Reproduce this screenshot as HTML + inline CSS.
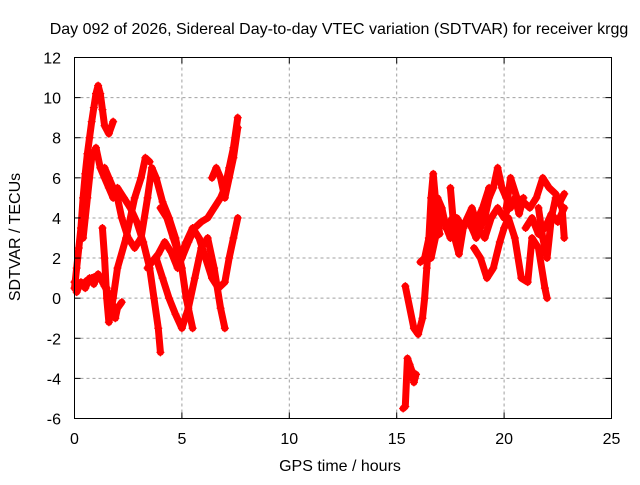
<!DOCTYPE html>
<html><head><meta charset="utf-8"><style>
body{margin:0;background:#fff;}
svg text{font-family:"Liberation Sans",sans-serif;font-size:16px;fill:#000;}
</style></head><body>
<svg id="chart" width="640" height="480" xmlns="http://www.w3.org/2000/svg">
<rect width="640" height="480" fill="#fff"/>
<text x="339" y="34" text-anchor="middle">Day 092 of 2026, Sidereal Day-to-day VTEC variation (SDTVAR) for receiver krgg</text>
<text x="340" y="471" text-anchor="middle">GPS time / hours</text>
<text transform="translate(20,237) rotate(-90)" text-anchor="middle">SDTVAR / TECUs</text>
<g id="grid"></g><g id="marks"></g>
<rect x="74.5" y="57.5" width="537" height="361" fill="none" stroke="#000" stroke-width="1"/>
<g id="ticks"></g>
</svg>
<script>
const xTicks=[0,5,10,15,20,25];
const yTicks=[-6,-4,-2,0,2,4,6,8,10,12];
// tracks: hours and SDTVAR values
const t1h=[0.0,0.1,0.2,0.3,0.4,0.5,0.6,0.7,0.8,0.9,1.0,1.1,1.2,1.3,1.4,1.6,1.8];
const t1v=[0.5,1.5,2.5,3.5,5.0,6.2,7.2,8.0,8.8,9.5,10.2,10.6,10.2,9.4,8.6,8.2,8.8];
const t2h=[0.0,0.2,0.4,0.6,0.8,1.0,1.2,1.4,1.6,1.8,1.9,2.0,2.2];
const t2v=[0.8,0.6,0.7,0.9,1.0,1.1,1.0,0.6,0.2,-0.4,-1.0,-0.5,-0.2];
const t3h=[0.4,0.6,0.8,1.0,1.2,1.4,1.6,1.8,2.0,2.3,2.6,2.9,3.2,3.5,3.7,3.9,4.0];
const t3v=[3.0,5.0,7.0,7.5,6.5,6.0,5.5,5.0,5.5,5.0,4.5,3.8,2.8,1.5,0.0,-1.5,-2.7];
const t4h=[1.4,1.6,1.8,2.0,2.2,2.5,2.8,3.1,3.4,3.6,3.8,4.1,4.4,4.7,5.0,5.2,5.5];
const t4v=[6.5,6.0,5.5,5.0,4.0,3.0,2.5,3.0,5.0,6.5,6.0,4.8,4.0,3.0,1.5,0.0,-1.5];
const t5h=[1.3,1.4,1.5,1.6,1.8,2.0,2.4,2.8,3.1,3.3,3.5];
const t5v=[3.5,2.0,0.0,-1.2,0.0,1.5,3.0,5.0,6.0,7.0,6.8];
const t6h=[3.4,3.6,3.9,4.2,4.5,4.8,5.0,5.3,5.6,5.9,6.2,6.5,6.8,7.0,7.2,7.4,7.6];
const t6v=[1.5,1.8,2.2,2.8,2.3,1.5,2.0,2.8,3.5,3.8,4.0,4.5,5.0,5.5,6.5,7.5,9.0];
const t7h=[3.8,4.1,4.4,4.7,5.0,5.3,5.6,5.9,6.2,6.5,6.8,7.0];
const t7v=[2.0,1.0,0.0,-0.8,-1.5,-0.5,1.0,2.5,3.0,1.5,-0.5,-1.5];
const t8h=[4.0,4.3,4.6,4.9,5.2,5.5,5.8,6.1,6.4,6.7,7.0,7.2,7.4,7.6];
const t8v=[4.5,4.0,3.0,2.0,2.8,3.5,3.0,2.0,1.0,0.5,0.8,2.0,3.0,4.0];
const t9h=[6.4,6.6,6.8,7.0,7.2,7.4,7.6];
const t9v=[6.0,6.5,6.0,5.0,6.0,7.0,8.5];
const t10h=[15.3,15.4,15.5,15.6,15.7,15.8,15.9];
const t10v=[-5.5,-5.4,-3.0,-3.3,-3.6,-4.2,-3.8];
const t11h=[15.4,15.8,16.0,16.2,16.3,16.4,16.5,16.6,16.7,16.8,16.9,17.0];
const t11v=[0.6,-1.5,-1.8,-1.0,0.0,1.5,3.0,5.0,6.2,5.0,4.0,3.2];
const t12h=[16.1,16.3,16.5,16.7,16.9,17.1,17.3];
const t12v=[1.8,2.0,3.0,4.0,5.0,4.5,3.5];
const t13h=[17.5,17.7,17.9,18.1,18.3,18.5,18.7,18.9,19.1,19.3,19.5,19.7,19.9,20.1,20.3,20.5,20.7,20.9];
const t13v=[5.5,3.0,2.2,3.5,4.0,3.5,3.0,3.5,4.0,5.0,5.5,6.5,5.5,5.0,4.5,5.0,4.2,5.0];
const t14h=[18.6,18.9,19.2,19.5,19.8,20.0,20.2,20.5,20.8,21.1,21.3,21.6,21.9,22.0];
const t14v=[2.5,2.0,1.0,1.5,2.8,3.5,4.0,3.0,1.0,0.8,3.0,2.5,0.5,0.0];
const t15h=[20.1,20.3,20.6,20.9,21.2,21.5,21.8,22.1,22.4,22.7,22.8];
const t15v=[4.5,6.0,5.0,4.8,4.5,5.0,6.0,5.5,5.2,4.5,3.0];
const t16h=[21.6,21.8,22.0,22.2,22.4,22.6,22.8];
const t16v=[4.5,3.0,2.0,4.0,5.0,4.8,5.2];
const t17h=[17.3,17.6,17.9,18.2,18.5,18.8,19.1,19.4,19.7,20.0,20.3];
const t17v=[3.5,4.0,3.2,3.8,4.5,3.5,3.0,4.0,4.5,4.0,4.8];
const t18h=[16.6,16.8,17.0,17.2,17.5,17.8,18.1,18.4,18.7,19.0,19.3];
const t18v=[2.0,3.0,4.5,3.8,3.0,4.0,3.5,4.2,3.8,4.5,5.5];
const t19h=[21.0,21.3,21.6,21.9,22.2,22.5,22.8];
const t19v=[3.5,4.0,3.2,3.5,4.2,3.8,4.5];
const t20h=[0.1,0.3,0.5,0.7,0.9,1.1,1.3,1.5];
const t20v=[0.3,0.8,0.5,1.0,0.7,1.2,0.9,0.5];
const tracks=[[t1h,t1v],[t2h,t2v],[t3h,t3v],[t4h,t4v],[t5h,t5v],[t6h,t6v],[t7h,t7v],[t8h,t8v],[t9h,t9v],[t10h,t10v],[t11h,t11v],[t12h,t12v],[t13h,t13v],[t14h,t14v],[t15h,t15v],[t16h,t16v],[t17h,t17v],[t18h,t18v],[t19h,t19v],[t20h,t20v]];
const NS='http://www.w3.org/2000/svg';
const X0=74.5,X1=611.5,Y0=418.5,Y1=57.5;
function sx(h){return X0+(h-0)/(25-0)*(X1-X0);}
function sy(v){return Y0-(v+6)/(18)*(Y0-Y1);}
const grid=document.getElementById('grid'),ticks=document.getElementById('ticks'),marks=document.getElementById('marks');
function mk(t,a){const e=document.createElementNS(NS,t);for(const k in a)e.setAttribute(k,a[k]);return e;}
xTicks.forEach(t=>{const x=sx(t);
 if(t>0&&t<25){const g=mk('line',{x1:x,x2:x,y1:Y0,y2:Y1,stroke:'#a0a0a0','stroke-dasharray':'3,3'});grid.appendChild(g);}
 const a=mk('line',{x1:x,x2:x,y1:Y0,y2:Y0-6,stroke:'#000'});ticks.appendChild(a);
 const b=mk('line',{x1:x,x2:x,y1:Y1,y2:Y1+6,stroke:'#000'});ticks.appendChild(b);
 const l=mk('text',{x:x,y:444,'text-anchor':'middle'});l.textContent=t;ticks.appendChild(l);});
yTicks.forEach(t=>{const y=sy(t);
 if(t>-6&&t<12){const g=mk('line',{x1:X0,x2:X1,y1:y,y2:y,stroke:'#a0a0a0','stroke-dasharray':'3,3'});grid.appendChild(g);}
 const a=mk('line',{x1:X0,x2:X0+6,y1:y,y2:y,stroke:'#000'});ticks.appendChild(a);
 const b=mk('line',{x1:X1,x2:X1-6,y1:y,y2:y,stroke:'#000'});ticks.appendChild(b);
 const l=mk('text',{x:61,y:y+6,'text-anchor':'end'});l.textContent=t;ticks.appendChild(l);});
tracks.forEach(([hs,vs])=>{
 const pts=hs.map((h,i)=>sx(h)+','+sy(vs[i])).join(' ');
 const pl=mk('polyline',{points:pts,fill:'none',stroke:'#ff0000','stroke-width':7,'stroke-linejoin':'round','stroke-linecap':'round'});
 
 
 marks.appendChild(pl);
 hs.forEach((h,i)=>{const x=sx(h),y=sy(vs[i]);
  const p=mk('path',{d:`M${x-4},${y}H${x+4}M${x},${y-4}V${y+4}`,stroke:'#ff0000','stroke-width':1.2});
  
  
  marks.appendChild(p);});
});
</script>
</body></html>
